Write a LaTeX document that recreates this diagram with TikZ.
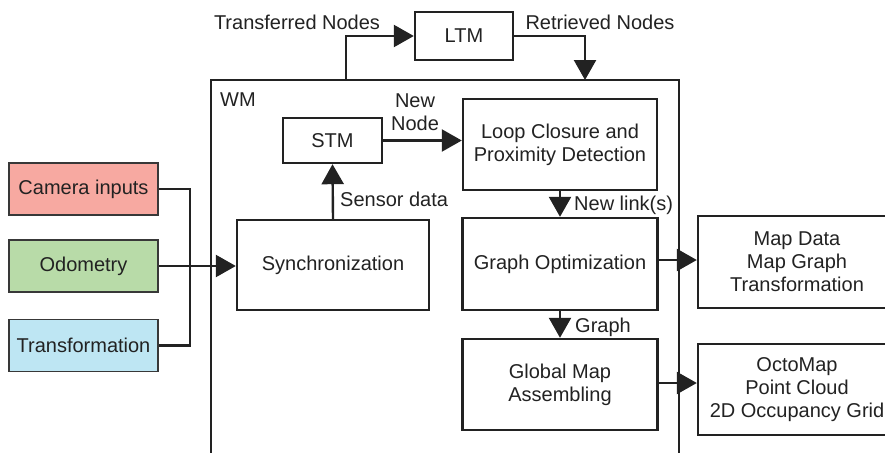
\documentclass[tikz,border=0pt]{standalone}
\usepackage{fontspec}
\setmainfont{Liberation Sans}
\usetikzlibrary{arrows.meta}
\definecolor{ink}{HTML}{222222}
\definecolor{camfill}{HTML}{F7A9A1}
\definecolor{odofill}{HTML}{B8DBA8}
\definecolor{trfill}{HTML}{BEE6F3}
\begin{document}
\begin{tikzpicture}[x=1pt,y=-1pt,
  font=\fontsize{20}{23}\selectfont, text=ink,
  box/.style={draw=ink, line width=2.4pt, fill=white, align=center, inner sep=0pt},
  inbox/.style={draw=ink!90, line width=1.6pt, align=center, inner sep=0pt,
    minimum width=149pt, minimum height=52pt},
  wire/.style={draw=ink, line width=2.4pt},
  arr/.style={wire, -{Triangle[length=20pt,width=22pt]}},
  lbl/.style={inner sep=0pt, align=center}]
\useasboundingbox (0,0) rectangle (885,452);
\clip (0,0) rectangle (885,452);
% WM frame
\node[box, fill=none, minimum width=468pt, minimum height=390pt] (wm) at (445,275) {};
\node[lbl] (wmlbl) at (238,100) {WM};
% inputs
\node[inbox, fill=camfill] (cam) at (83.5,189) {Camera inputs};
\node[inbox, fill=odofill] (odo) at (83.5,266) {Odometry};
\node[inbox, fill=trfill] (trans) at (83.5,345.5) {Transformation};
% inner boxes
\node[box, minimum width=192pt, minimum height=90pt] (sync) at (333,265) {Synchronization};
\node[box, minimum width=99pt, minimum height=45pt] (stm) at (332.5,140.5) {STM};
\node[box, minimum width=194pt, minimum height=91pt] (loop) at (560,144.5) {Loop Closure and\\Proximity Detection};
\node[box, minimum width=195pt, minimum height=92pt] (gopt) at (560,264) {Graph Optimization};
\node[box, minimum width=195pt, minimum height=91pt] (gmap) at (560,384.5) {Global Map\\Assembling};
\node[box, minimum width=98pt, minimum height=48pt] (ltm) at (464,36) {LTM};
% outputs
\node[box, minimum width=198pt, minimum height=92pt] (mapd) at (797,262) {Map Data\\Map Graph\\Transformation};
\node[box, minimum width=198pt, minimum height=91pt] (octo) at (797,389.5) {OctoMap\\Point Cloud\\2D Occupancy Grid};
% connectors
\coordinate (bus) at (190,266);
\draw[wire] (cam.east) -| (bus) |- (trans.east);
\draw[arr] (odo.east) -- (odo.east -| sync.west);
\draw[arr] (sync.north) -- (stm.south);
\node[lbl, anchor=west] (sdl) at (340,199) {Sensor data};
\draw[arr] (stm.east) -- (stm.east -| loop.west);
\node[lbl] (nnl) at (415,112) {New\\Node};
\draw[arr] (loop.south) -- (gopt.north);
\node[lbl, anchor=west] (nll) at (574,205) {New link(s)};
\draw[arr] (gopt.south) -- (gmap.north);
\node[lbl, anchor=west] (gl) at (575,327) {Graph};
\coordinate (go) at (gopt.east |- 0,260);
\draw[arr] (go) -- (go -| mapd.west);
\coordinate (gm) at (gmap.east |- 0,383);
\draw[arr] (gm) -- (gm -| octo.west);
\coordinate (wmT1) at (346,80);
\coordinate (wmT2) at (585,80);
\draw[arr] (wmT1) |- (ltm.west);
\draw[arr] (ltm.east) -| (wmT2);
\node[lbl] (tnl) at (297,22) {Transferred Nodes};
\node[lbl] (rnl) at (600,22) {Retrieved Nodes};
\end{tikzpicture}
\end{document}
